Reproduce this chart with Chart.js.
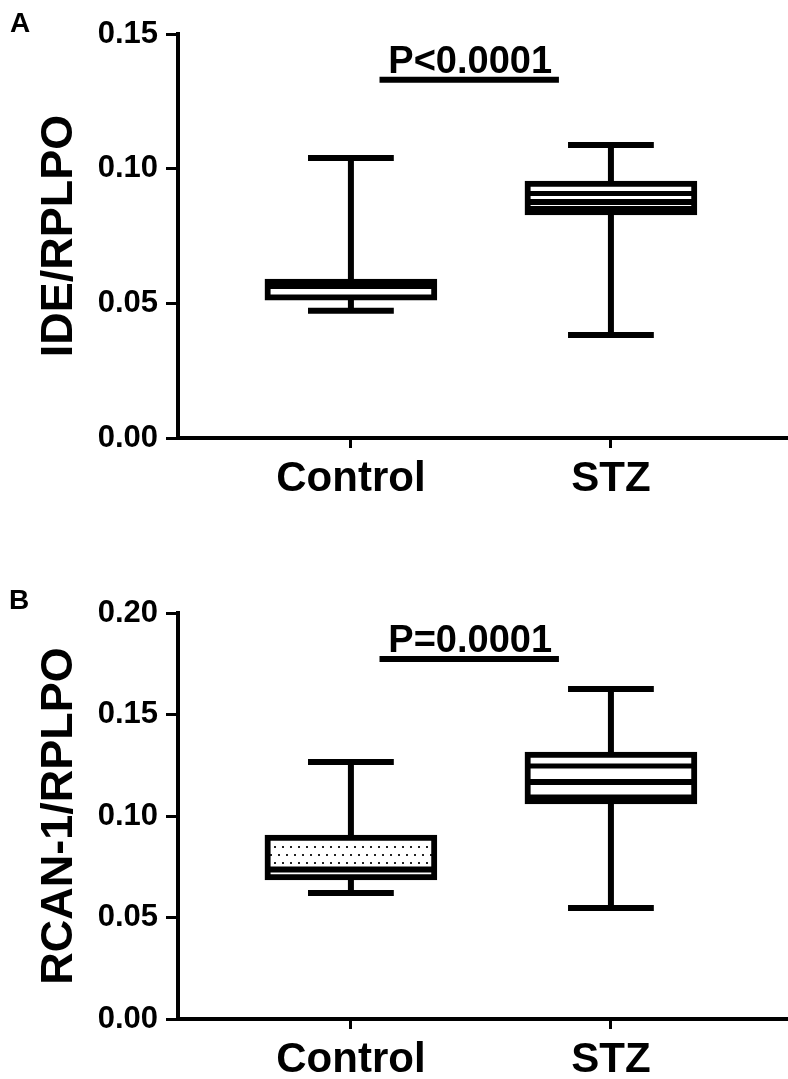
<!DOCTYPE html>
<html>
<head>
<meta charset="utf-8">
<script src="https://cdn.jsdelivr.net/npm/chart.js@4.4.0/dist/chart.umd.min.js"></script>
<style>
  body { margin: 0; background: #fff; width: 788px; height: 1079px; position: relative; overflow: hidden;
         font-family: 'Liberation Sans', Arial, sans-serif; }
  .panel { position: absolute; left: 0; width: 788px; }
  .letter { position: absolute; font-weight: bold; font-size: 28px; line-height: 1; color: #000; }
</style>
</head>
<body>
<div class="panel" style="top:0"><canvas id="chartA" width="788" height="540"></canvas></div>
<div class="panel" style="top:540px"><canvas id="chartB" width="788" height="539"></canvas></div>
<div class="letter" style="left:10px;top:9px">A</div>
<div class="letter" style="left:9px;top:586px">B</div>
<script>
// groups on the x axis
const groups = ['Control', 'STZ'];

// panel A: IDE/RPLPO box plot
const ideMin = [0.0472, 0.0382];
const ideQ1 = [0.0512, 0.0828];
const ideMedian = [0.0564, 0.0876];
const ideQ3 = [0.0590, 0.0954];
const ideMax = [0.1040, 0.1088];
const ideStripes = [[], [0.0908, 0.0852]];
const ideTicks = [0, 0.05, 0.10, 0.15];

// panel B: RCAN-1/RPLPO box plot
const rcanMin = [0.0621, 0.0547];
const rcanQ1 = [0.0685, 0.1059];
const rcanMedian = [0.0736, 0.1167];
const rcanQ3 = [0.0906, 0.1315];
const rcanMax = [0.1266, 0.1626];
const rcanStripes = [[], [0.1246, 0.1094]];
const rcanTicks = [0, 0.05, 0.10, 0.15, 0.20];

const pLabels = ['P<0.0001', 'P=0.0001'];

const FONT = "'Liberation Sans', Arial, sans-serif";

function dotPattern() {
  const c = document.createElement('canvas');
  c.width = 8; c.height = 16;
  const g = c.getContext('2d');
  g.fillStyle = '#fff';
  g.fillRect(0, 0, 8, 16);
  g.fillStyle = '#222';
  g.fillRect(2, 2, 2, 2);
  g.fillRect(6, 10, 2, 2);
  return g.createPattern(c, 'repeat');
}

// whiskers, caps, medians and the significance bar, placed through the chart scales
const boxParts = {
  id: 'boxParts',
  beforeDatasetsDraw(chart, args, o) {
    const { ctx, scales: { x, y } } = chart;
    ctx.save();
    ctx.strokeStyle = '#000';
    ctx.lineWidth = 6;
    o.min.forEach((lo, i) => {
      const cx = x.getPixelForValue(i + 1);
      ctx.beginPath();
      ctx.moveTo(cx, y.getPixelForValue(o.max[i]));
      ctx.lineTo(cx, y.getPixelForValue(o.q3[i]));
      ctx.moveTo(cx, y.getPixelForValue(o.q1[i]));
      ctx.lineTo(cx, y.getPixelForValue(lo));
      ctx.stroke();
      const l = x.getPixelForValue(i + 1 - 0.165);
      const r = x.getPixelForValue(i + 1 + 0.165);
      [lo, o.max[i]].forEach(v => {
        const py = y.getPixelForValue(v);
        ctx.beginPath();
        ctx.moveTo(l, py);
        ctx.lineTo(r, py);
        ctx.stroke();
      });
    });
    ctx.restore();
  },
  afterDatasetsDraw(chart, args, o) {
    const { ctx, scales: { x, y } } = chart;
    ctx.save();
    ctx.strokeStyle = '#000';
    o.median.forEach((m, i) => {
      const l = x.getPixelForValue(i + 1 - 0.33);
      const r = x.getPixelForValue(i + 1 + 0.33);
      ctx.lineWidth = 6;
      ctx.beginPath();
      ctx.moveTo(l, y.getPixelForValue(m));
      ctx.lineTo(r, y.getPixelForValue(m));
      ctx.stroke();
      ctx.lineWidth = 5;
      o.stripes[i].forEach(v => {
        ctx.beginPath();
        ctx.moveTo(l, y.getPixelForValue(v));
        ctx.lineTo(r, y.getPixelForValue(v));
        ctx.stroke();
      });
    });
    // significance bar
    const s = o.sig;
    const x1 = x.getPixelForValue(s.from), x2 = x.getPixelForValue(s.to);
    const sy = y.getPixelForValue(s.at);
    ctx.lineWidth = 6;
    ctx.beginPath();
    ctx.moveTo(x1, sy);
    ctx.lineTo(x2, sy);
    ctx.stroke();
    ctx.fillStyle = '#000';
    ctx.font = 'bold 38px ' + FONT;
    ctx.textAlign = 'center';
    ctx.textBaseline = 'alphabetic';
    ctx.fillText(s.label, (x1 + x2) / 2 + 1, sy - 7);
    ctx.restore();
  }
};

function makeBoxChart(id, d) {
  return new Chart(document.getElementById(id), {
    type: 'bar',
    data: {
      datasets: [{
        data: groups.map((g, i) => ({ x: i + 1, y: [d.q1[i], d.q3[i]] })),
        backgroundColor: d.fills,
        borderColor: '#000',
        borderWidth: 6,
        borderSkipped: false,
        barThickness: 172
      }]
    },
    options: {
      responsive: false,
      animation: false,
      layout: { padding: { top: d.top, right: 0, left: 0, bottom: 0 } },
      plugins: {
        legend: { display: false },
        tooltip: { enabled: false },
        boxParts: {
          min: d.min, q1: d.q1, median: d.median, q3: d.q3, max: d.max,
          stripes: d.stripes, sig: d.sig
        }
      },
      scales: {
        x: {
          type: 'linear',
          offset: false,
          min: 0.335,
          max: 2.681,
          afterBuildTicks: s => { s.ticks = groups.map((g, i) => ({ value: i + 1 })); },
          afterFit: s => { s.height = d.xHeight; },
          ticks: {
            callback: v => groups[v - 1],
            color: '#000',
            font: { family: FONT, size: 42, weight: 'bold' },
            padding: 6,
            maxRotation: 0,
            autoSkip: false
          },
          grid: { offset: false, drawOnChartArea: false, tickLength: 10, color: '#000', lineWidth: 3 },
          border: { color: '#000', width: 4 }
        },
        y: {
          min: 0,
          max: d.ticks[d.ticks.length - 1],
          afterBuildTicks: s => { s.ticks = d.ticks.map(v => ({ value: v })); },
          afterFit: s => { s.width = 178; },
          ticks: {
            callback: v => v.toFixed(2),
            color: '#000',
            font: { family: FONT, size: 31, weight: 'bold' },
            padding: 8
          },
          grid: { drawOnChartArea: false, tickLength: 12, color: '#000', lineWidth: 3 },
          border: { color: '#000', width: 4 },
          title: {
            display: true,
            text: d.title,
            color: '#000',
            font: { family: FONT, size: 45, weight: 'bold' },
            padding: { top: 33, bottom: 0 }
          }
        }
      }
    },
    plugins: [boxParts]
  });
}

makeBoxChart('chartA', {
  min: ideMin, q1: ideQ1, median: ideMedian, q3: ideQ3, max: ideMax, stripes: ideStripes,
  ticks: ideTicks, title: 'IDE/RPLPO', fills: ['#fff', '#fff'],
  sig: { from: 1.11, to: 1.80, at: 0.133, label: pLabels[0] },
  top: 34, xHeight: 102
});

makeBoxChart('chartB', {
  min: rcanMin, q1: rcanQ1, median: rcanMedian, q3: rcanQ3, max: rcanMax, stripes: rcanStripes,
  ticks: rcanTicks, title: 'RCAN-1/RPLPO', fills: [dotPattern(), '#fff'],
  sig: { from: 1.11, to: 1.80, at: 0.1773, label: pLabels[1] },
  top: 73, xHeight: 60
});
</script>
</body>
</html>
